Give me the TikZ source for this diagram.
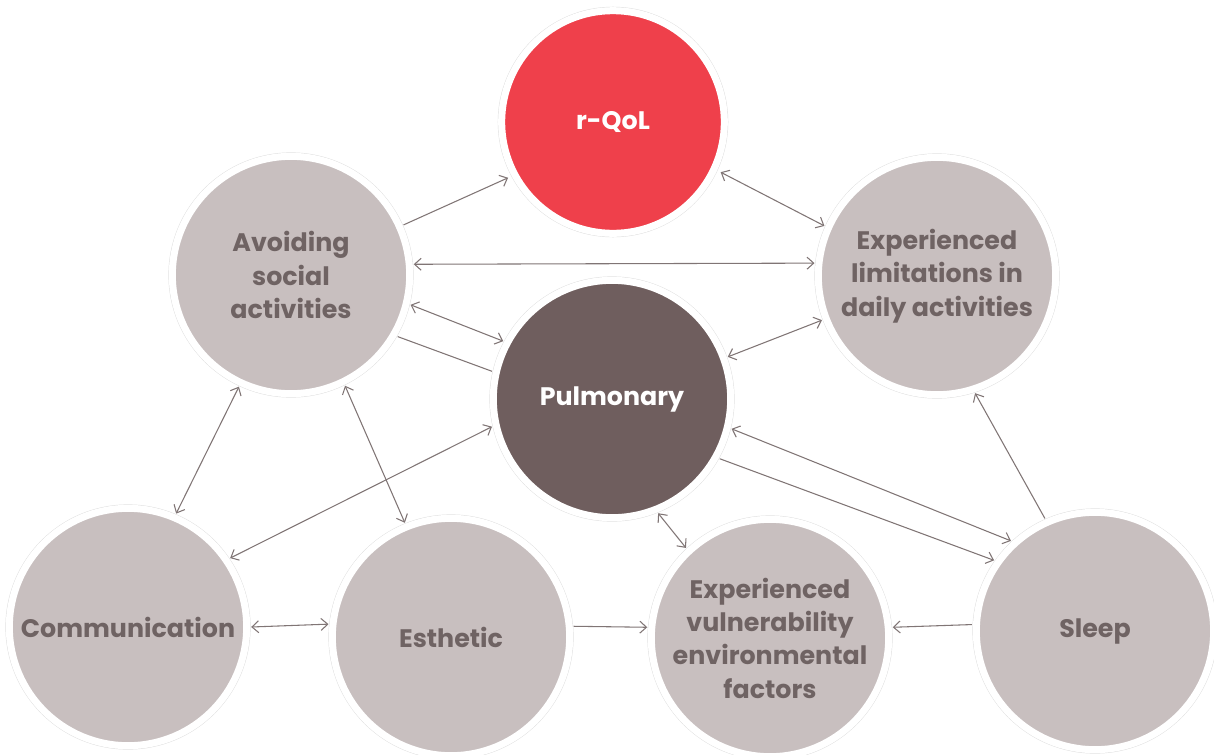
\documentclass[tikz,border=0pt]{standalone}
\usepackage{fontspec}
\setmainfont{Poppins}
\usetikzlibrary{arrows.meta}
\definecolor{bubgray}{HTML}{C8BFBF}
\definecolor{pulm}{HTML}{6F5E5E}
\definecolor{qred}{HTML}{EF404B}
\definecolor{txtgray}{HTML}{6F6363}
\definecolor{linegray}{HTML}{807575}
\definecolor{ringgray}{HTML}{DDDDDD}
\tikzset{
  bub/.style={circle, fill=bubgray, draw=white, line width=5.25pt,
    preaction={draw=ringgray, line width=5.9pt},
    minimum size=178pt, inner sep=0pt, outer sep=3.4pt,
    align=center, text=txtgray, font=\bfseries\fontsize{19}{25}\selectfont},
  conn/.style={draw=linegray, line width=0.8pt},
  dbl/.style={conn, {Straight Barb[length=5pt,width=9pt]}-{Straight Barb[length=5pt,width=9pt]}},
  one/.style={conn, -{Straight Barb[length=5pt,width=9pt]}}
}
\begin{document}
\begin{tikzpicture}[x=0.75pt,y=-0.75pt]
\useasboundingbox (0,0) rectangle (1214,754);
\node[bub, fill=qred, text=white, minimum size=167pt, outer sep=5.6pt] (Q) at (613,122) {r-QoL};
\node[bub] (A) at (291,275) {Avoiding\\social\\activities};
\node[bub] (L) at (937,276) {Experienced\\limitations in\\daily activities};
\node[bub, fill=pulm, text=white] (P) at (612,399) {Pulmonary};
\node[bub] (C) at (128,627) {Communication};
\node[bub] (E) at (451,637) {Esthetic};
\node[bub] (V) at (770,638) {Experienced\\vulnerability\\environmental\\factors};
\node[bub] (S) at (1095,631) {Sleep};
% connectors
\draw[one] (A.24) -- (Q.208);
\draw[dbl] (Q.-25) -- (L.156);
\draw[dbl] (A.5.7) -- (L.174);
\draw[dbl] (A.-14.7) -- (P.152);
\draw[conn] (A.-30) -- (P.167);
\draw[dbl] (P.20.6) -- (L.201);
\draw[dbl] (A.245) -- (C.67);
\draw[dbl] (A.-64) -- (E.112);
\draw[dbl] (P.193.5) -- (C.34);
\draw[dbl] (P.-14.7) -- (S.133);
\draw[one] (P.-29) -- (S.145);
\draw[one] (S.114) -- (L.-72);
\draw[dbl] (P.-68.6) -- (V.133.4);
\draw[dbl] (C.0.5) -- (E.174.5);
\draw[one] (E.5) -- (V.175);
\draw[one] (S.177.5) -- (V.5);
\end{tikzpicture}
\end{document}
